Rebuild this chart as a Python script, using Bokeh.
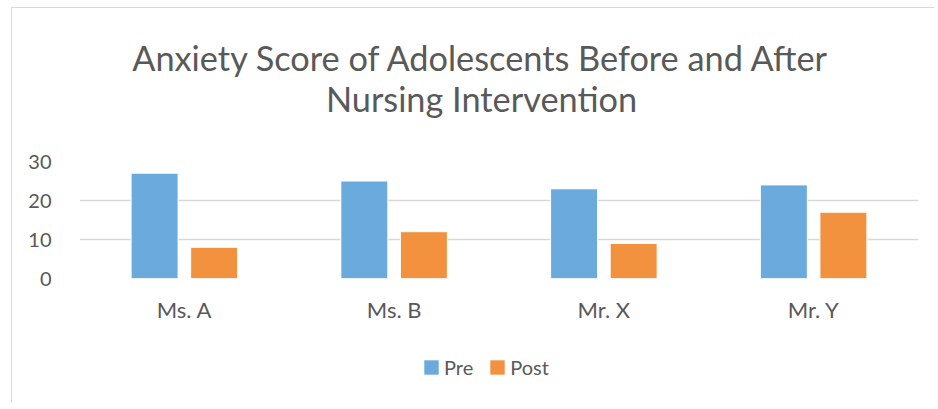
from bokeh.plotting import figure
from bokeh.models import FactorRange, Range1d, Legend, LegendItem, Label, ColumnDataSource
from bokeh.layouts import column
from bokeh.transform import dodge
from bokeh.embed import file_html
from bokeh.resources import INLINE

categories = ["Ms. A", "Ms. B", "Mr. X", "Mr. Y"]
pre = [27, 25, 23, 24]
post = [8, 12, 9, 17]
y_ticks = [0, 10, 20, 30]
series_names = ["Pre", "Post"]
series_colors = ["#6AAADC", "#F2923F"]
title_lines = ["Anxiety Score of Adolescents Before and After", "Nursing Intervention"]

TEXT = "#595959"
GRID = "#d9d9d9"
FONT = "Lato"
W = 922
FL, FR = 67, 16   # frame borders (shared by all strips)


def strip(height, x_range=None, y_range=None):
    f = figure(width=W, height=height, output_backend="svg", toolbar_location=None, title=None,
               x_axis_location=None, y_axis_location=None,
               min_border_left=FL, min_border_right=FR, min_border_top=0, min_border_bottom=0,
               x_range=x_range or Range1d(FL, W - FR), y_range=y_range or Range1d(0, height))
    f.xgrid.grid_line_color = None
    f.ygrid.grid_line_color = None
    f.outline_line_color = None
    return f


# ---- title strip ----
TH = 120
pt = strip(TH)
for txt, base in zip(title_lines, (71, 30)):
    pt.add_layout(Label(x=469, y=base, text=txt, text_align="center", text_baseline="alphabetic",
                        text_font=FONT, text_font_size="34.3px", text_color=TEXT))

# ---- chart ----
source = ColumnDataSource(dict(cat=categories, pre=pre, post=post))
p = figure(x_range=FactorRange(*categories, range_padding=0), y_range=Range1d(0, 30),
           width=W, height=210, output_backend="svg", toolbar_location=None,
           min_border_left=FL, min_border_right=FR, min_border_top=33, min_border_bottom=60)

p.vbar(x=dodge("cat", -0.142, range=p.x_range), top="pre", width=0.224, source=source,
       fill_color=series_colors[0], line_color="white", line_width=1)
p.vbar(x=dodge("cat", 0.142, range=p.x_range), top="post", width=0.224, source=source,
       fill_color=series_colors[1], line_color="white", line_width=1)

p.xgrid.grid_line_color = None
p.ygrid.grid_line_color = GRID
p.ygrid.grid_line_width = 1.3
p.outline_line_color = None

p.yaxis.ticker = y_ticks
for ax in (p.xaxis, p.yaxis):
    ax.axis_line_color = None
    ax.major_tick_line_color = None
    ax.minor_tick_line_color = None
    ax.major_label_text_color = TEXT
    ax.major_label_text_font = FONT
p.yaxis.major_label_text_font_size = "20px"
p.yaxis.major_label_standoff = 22
p.xaxis.major_label_text_font_size = "22px"
p.xaxis.major_label_standoff = 11

# ---- legend strip ----
pl = strip(65, x_range=Range1d(0, 1), y_range=Range1d(0, 1))
proxy = ColumnDataSource(dict(x=[-5.0], top=[-5.0]))  # out-of-view legend proxies
l1 = pl.vbar(x="x", top="top", width=0.1, source=proxy, fill_color=series_colors[0], line_color=None)
l2 = pl.vbar(x="x", top="top", width=0.1, source=proxy, fill_color=series_colors[1], line_color=None)
legend = Legend(items=[LegendItem(label=series_names[0], renderers=[l1]),
                       LegendItem(label=series_names[1], renderers=[l2])],
                orientation="horizontal", location=(343, 24),
                glyph_width=18, glyph_height=18, label_text_font=FONT,
                label_text_font_size="20px", label_text_color=TEXT,
                border_line_color=None, background_fill_alpha=0, padding=0, margin=0,
                spacing=15, label_standoff=4)
pl.add_layout(legend, "center")

layout = column(pt, p, pl, spacing=0)
layout.margin = (7, 0, 0, 11)
layout.styles = {"border-left": "1px solid #d9d9d9", "border-top": "1px solid #d9d9d9"}

open("out.html", "w").write(file_html(layout, INLINE))
